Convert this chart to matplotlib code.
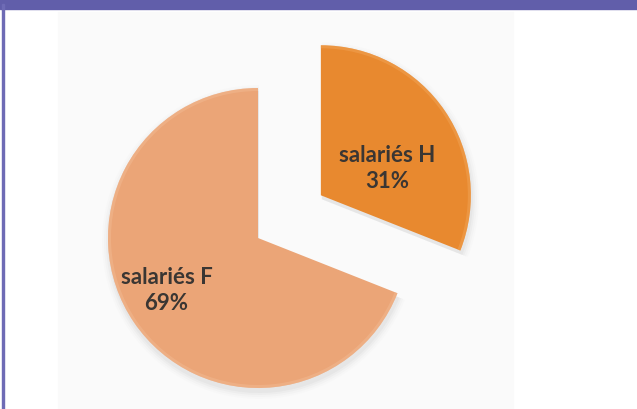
import matplotlib
matplotlib.use("Agg")
import matplotlib.pyplot as plt
import matplotlib.patches as mpatches
import numpy as np

labels = ["salariés H", "salariés F"]
values = [31, 69]
colors = ["#E8892F", "#EBA577"]
rim_colors = ["#F2A65A", "#F2BC96"]

W, H = 637, 410
fig = plt.figure(figsize=(W / 100, H / 100), dpi=100)
fig.patch.set_facecolor("white")
ax = fig.add_axes([0, 0, 1, 1])

center = (258, 171)
radius = 150
wedges, _ = ax.pie(values, colors=colors, startangle=90, counterclock=False,
                   explode=[76, 0], center=center, radius=radius,
                   wedgeprops=dict(edgecolor="none", zorder=3), frame=False)
ax.set_xlim(0, W)
ax.set_ylim(0, H)
ax.set_aspect("equal")
ax.axis("off")

# frame: purple top band and left border
ax.add_patch(mpatches.Rectangle((0, H - 9.5), W, 9.5, color="#615EAA", zorder=1))
ax.add_patch(mpatches.Rectangle((1.5, 0), 2, H - 5, color="#6E6BB5", zorder=1))
# light plot area
ax.add_patch(mpatches.Rectangle((58, 0), 455, H - 13, color="#FAFAFA", zorder=0.5))

for w, rc in zip(wedges, rim_colors):
    # soft shadow
    for k, a in enumerate([0.06, 0.045, 0.03, 0.02]):
        sh = mpatches.Wedge((w.center[0] + 1, w.center[1] - 4), w.r + 1 + 2 * k, w.theta1, w.theta2,
                            color="#808080", alpha=a, zorder=2, lw=0)
        ax.add_patch(sh)
    # bevel rim highlight
    rim = mpatches.Wedge(w.center, w.r, w.theta1, w.theta2, width=3,
                         color=rc, alpha=0.45, zorder=3.5, lw=0)
    ax.add_patch(rim)

dist = [0.48, 0.70]
ang_shift = [-11.5, -4.7]
for w, lab, v, d, s in zip(wedges, labels, values, dist, ang_shift):
    ang = np.deg2rad((w.theta1 + w.theta2) / 2 + s)
    x = w.center[0] + d * w.r * np.cos(ang)
    y = w.center[1] + d * w.r * np.sin(ang)
    ax.text(x, y, f"{lab}\n{v}%", ha="center", va="center", fontsize=16,
            fontweight="bold", color="#3A3633", family=["Lato", "DejaVu Sans"],
            linespacing=1.3, zorder=5)

fig.savefig("out.png", dpi=100, facecolor="white")
